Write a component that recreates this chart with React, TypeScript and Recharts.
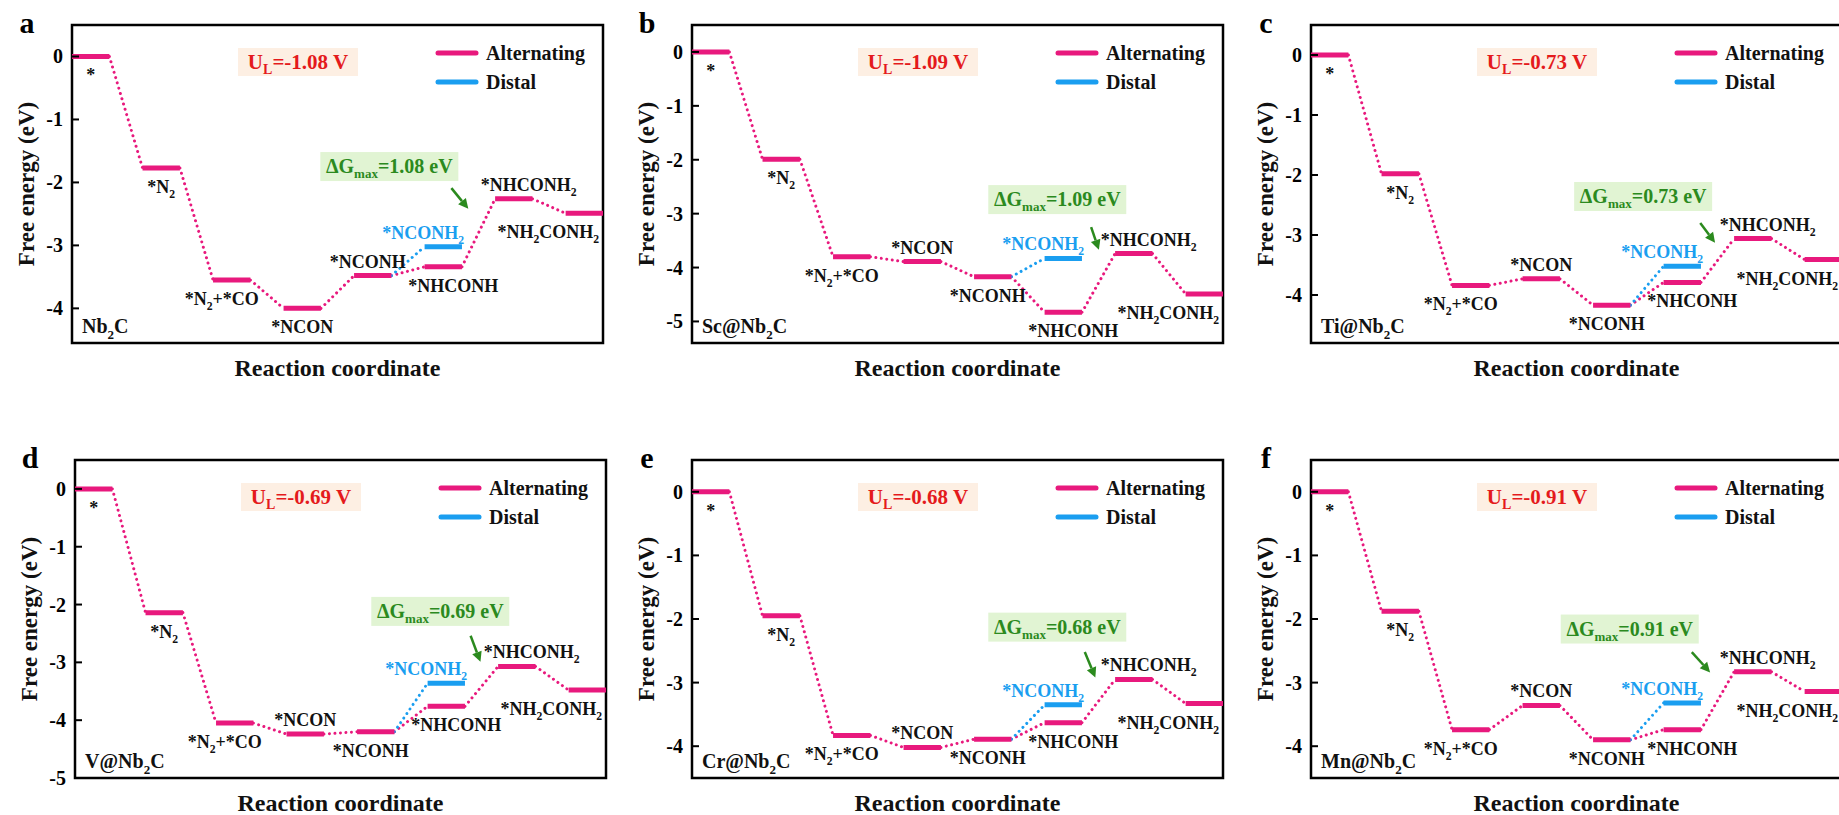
import React from 'react'
import { LineChart, Line, XAxis, YAxis, ReferenceDot, ReferenceLine, ReferenceArea } from 'recharts'

const FONT = "'Liberation Serif', 'Times New Roman', serif"
const PINK = '#e8197d'
const BLUE = '#1a9ef0'
const RED = '#e41a1c'
const GREEN = '#2b8a1e'
const LW = 0.53 // width of one level, in step units
const X_MAX = 7 + LW
const LABEL_SIZE = 18

// reaction steps (alternating path) and the distal branch at step 5
const stepNames = ['*', '*N2', '*N2+*CO', '*NCON', '*NCONH', '*NHCONH', '*NHCONH2', '*NH2CONH2']
const distalName = '*NCONH2'

// free energies (eV)
const nb2c = [0, -1.77, -3.55, -4.0, -3.48, -3.34, -2.26, -2.49]
const nb2cDistal = -3.02
const scNb2c = [0, -1.99, -3.8, -3.89, -4.17, -4.83, -3.74, -4.49]
const scDistal = -3.83
const tiNb2c = [0, -1.98, -3.84, -3.73, -4.17, -3.79, -3.06, -3.41]
const tiDistal = -3.52
const vNb2c = [0, -2.14, -4.05, -4.24, -4.2, -3.76, -3.07, -3.48]
const vDistal = -3.36
const crNb2c = [0, -1.95, -3.83, -4.02, -3.89, -3.63, -2.95, -3.33]
const crDistal = -3.35
const mnNb2c = [0, -1.88, -3.74, -3.36, -3.9, -3.74, -2.83, -3.14]
const mnDistal = -3.32

const ulValues = ['-1.08', '-1.09', '-0.73', '-0.69', '-0.68', '-0.91']
const dgValues = ['1.08', '1.09', '0.73', '0.69', '0.68', '0.91']

const ticks4 = [-4, -3, -2, -1, 0]
const ticks5 = [-5, -4, -3, -2, -1, 0]

// label placement: 'a' above the level, 'b' below
const sidesA = ['b', 'b', 'b', 'b', 'a', 'b', 'a', 'b']
const sidesRest = ['b', 'b', 'b', 'a', 'b', 'b', 'a', 'b']
const labelDx = [0, 0, -10, 0, -5, 10, 15, -36]
const distalDx = -20

const PLOT_W = 531
const PLOT_H = 318
const ML = 72
const MT = 25
const MR = 20
const MB = 50

const panels = [
  { letter: 'a', name: 'Nb2C', energy: nb2c, distal: nb2cDistal, left: 72, top: 25, domain: [-4.55, 0.5], ticks: ticks4, sides: sidesA, dg: [4.5, -1.74], arrow: [5.38, -2.09, 5.62, -2.42] },
  { letter: 'b', name: 'Sc@Nb2C', energy: scNb2c, distal: scDistal, left: 692, top: 25, domain: [-5.4, 0.5], ticks: ticks5, sides: sidesRest, dg: [5.18, -2.73], arrow: [5.66, -3.25, 5.77, -3.67] },
  { letter: 'c', name: 'Ti@Nb2C', energy: tiNb2c, distal: tiDistal, left: 1311, top: 25, domain: [-4.8, 0.5], ticks: ticks4, sides: sidesRest, dg: [4.71, -2.35], arrow: [5.52, -2.8, 5.73, -3.13] },
  { letter: 'd', name: 'V@Nb2C', energy: vNb2c, distal: vDistal, left: 75, top: 460, domain: [-5, 0.5], ticks: ticks5, sides: sidesRest, dg: [5.18, -2.11], arrow: [5.61, -2.54, 5.75, -2.99] },
  { letter: 'e', name: 'Cr@Nb2C', energy: crNb2c, distal: crDistal, left: 692, top: 460, domain: [-4.5, 0.5], ticks: ticks4, sides: sidesRest, dg: [5.18, -2.12], arrow: [5.57, -2.52, 5.72, -2.92] },
  { letter: 'f', name: 'Mn@Nb2C', energy: mnNb2c, distal: mnDistal, left: 1311, top: 460, domain: [-4.5, 0.5], ticks: ticks4, sides: sidesRest, dg: [4.52, -2.15], arrow: [5.4, -2.52, 5.66, -2.84] },
]

function chem(text: string, size: number) {
  const parts = text.split(/(\d+)/)
  let shifted = false
  const out: any[] = []
  parts.forEach((p, i) => {
    if (!p) return
    if (/^\d+$/.test(p)) {
      out.push(<tspan key={i} dy={size * 0.28} fontSize={size * 0.65}>{p}</tspan>)
      shifted = true
    } else {
      out.push(<tspan key={i} dy={shifted ? -size * 0.28 : 0}>{p}</tspan>)
      shifted = false
    }
  })
  return out
}

function levelPoints(energy: number[]) {
  const pts: any[] = []
  energy.forEach((e, i) => {
    pts.push({ x: i, y: e }, { x: i + LW, y: e }, { x: i + LW, y: null })
  })
  return pts
}

function linkPoints(energy: number[]) {
  const pts: any[] = []
  for (let i = 0; i < energy.length - 1; i++) {
    pts.push({ x: i + LW, y: energy[i] }, { x: i + 1, y: energy[i + 1] }, { x: i + 1, y: null })
  }
  return pts
}

const YTick = (props: any) => {
  const { y, payload } = props
  return (
    <g>
      <line x1={ML} x2={ML + 7} y1={y} y2={y} stroke='#000' strokeWidth={2} />
      <text x={ML - 9} y={y} dy='0.35em' textAnchor='end' fontFamily={FONT} fontWeight='bold' fontSize={20} fill='#000'>
        {payload.value}
      </text>
    </g>
  )
}

function Panel({ p, idx }: { p: any; idx: number }) {
  const width = ML + PLOT_W + MR
  const height = MT + PLOT_H + MB
  const right = ML + PLOT_W
  const bottom = MT + PLOT_H
  const e = p.energy
  const distalLevel = [{ x: 5, y: p.distal }, { x: 5 + LW, y: p.distal }]
  const distalLink = [{ x: 4 + LW, y: e[4] }, { x: 5, y: p.distal }]

  return (
    <div style={{ position: 'absolute', left: p.left - ML, top: p.top - MT, width, height }}>
      <LineChart width={width} height={height} margin={{ top: MT, right: MR, bottom: MB, left: 0 }}>
        <XAxis type='number' dataKey='x' domain={[0, X_MAX]} allowDataOverflow hide />
        <YAxis
          type='number'
          width={ML}
          domain={p.domain}
          ticks={p.ticks}
          interval={0}
          allowDataOverflow
          axisLine={false}
          tickLine={false}
          tick={(tp: any) => <YTick {...tp} />}
        />
        <ReferenceArea x1={0} x2={X_MAX} y1={p.domain[0]} y2={p.domain[1]} fill='none' stroke='#000' strokeWidth={2.5} ifOverflow='visible' />
        <Line data={linkPoints(e)} dataKey='y' stroke={PINK} strokeWidth={3} strokeDasharray='0.01 5.5' strokeLinecap='round' dot={false} activeDot={false} isAnimationActive={false} legendType='none' />
        <Line data={distalLink} dataKey='y' stroke={BLUE} strokeWidth={3} strokeDasharray='0.01 5.5' strokeLinecap='round' dot={false} activeDot={false} isAnimationActive={false} legendType='none' />
        <Line data={levelPoints(e)} dataKey='y' stroke={PINK} strokeWidth={5} dot={false} activeDot={false} isAnimationActive={false} legendType='none' />
        <Line data={distalLevel} dataKey='y' stroke={BLUE} strokeWidth={5} dot={false} activeDot={false} isAnimationActive={false} legendType='none' />
        {e.map((v: number, i: number) => (
          <ReferenceDot
            key={'l' + i}
            x={i + LW / 2}
            y={v}
            r={1}
            ifOverflow='visible'
            shape={(sp: any) => (
              <text
                x={sp.cx + labelDx[i]}
                y={sp.cy + (p.sides[i] === 'a' ? -8 : 25)}
                textAnchor='middle'
                fontFamily={FONT}
                fontWeight='bold'
                fontSize={LABEL_SIZE}
                fill='#111'
              >
                {chem(stepNames[i], LABEL_SIZE)}
              </text>
            )}
          />
        ))}
        <ReferenceDot
          x={5 + LW / 2}
          y={p.distal}
          r={1}
          ifOverflow='visible'
          shape={(sp: any) => (
            <text x={sp.cx + distalDx} y={sp.cy - 8} textAnchor='middle' fontFamily={FONT} fontWeight='bold' fontSize={LABEL_SIZE} fill={BLUE}>
              {chem(distalName, LABEL_SIZE)}
            </text>
          )}
        />
        <ReferenceDot
          x={p.dg[0]}
          y={p.dg[1]}
          r={1}
          ifOverflow='visible'
          shape={(sp: any) => (
            <g>
              <rect x={sp.cx - 69} y={sp.cy - 14} width={138} height={29} fill='#e1f4d3' />
              <text x={sp.cx} y={sp.cy + 7} textAnchor='middle' fontFamily={FONT} fontWeight='bold' fontSize={20} fill={GREEN}>
                <tspan>ΔG</tspan>
                <tspan dy={5} fontSize={13}>max</tspan>
                <tspan dy={-5}>{'=' + dgValues[idx] + ' eV'}</tspan>
              </text>
            </g>
          )}
        />
        <ReferenceLine
          segment={[{ x: p.arrow[0], y: p.arrow[1] }, { x: p.arrow[2], y: p.arrow[3] }]}
          ifOverflow='visible'
          shape={(lp: any) => {
            const { x1, y1, x2, y2 } = lp
            const ang = Math.atan2(y2 - y1, x2 - x1)
            const hl = 10
            const hw = 5
            const bx = x2 - hl * Math.cos(ang)
            const by = y2 - hl * Math.sin(ang)
            const px = -Math.sin(ang) * hw
            const py = Math.cos(ang) * hw
            return (
              <g>
                <line x1={x1} y1={y1} x2={bx} y2={by} stroke={GREEN} strokeWidth={2.5} />
                <polygon points={`${x2},${y2} ${bx + px},${by + py} ${bx - px},${by - py}`} fill={GREEN} />
              </g>
            )
          }}
        />
      </LineChart>
      <svg width={width} height={height} style={{ position: 'absolute', left: 0, top: 0, pointerEvents: 'none', overflow: 'visible' }}>
        <text x={ML - 45} y={MT + 8} textAnchor='middle' fontFamily={FONT} fontWeight='bold' fontSize={30} fill='#000'>
          {p.letter}
        </text>
        <text
          transform={`translate(${ML - 46}, ${MT + PLOT_H / 2}) rotate(-90)`}
          dy='0.35em'
          textAnchor='middle'
          fontFamily={FONT}
          fontWeight='bold'
          fontSize={23}
          fill='#111'
        >
          Free energy (eV)
        </text>
        <text x={ML + PLOT_W / 2} y={bottom + 33} textAnchor='middle' fontFamily={FONT} fontWeight='bold' fontSize={24} fill='#111'>
          Reaction coordinate
        </text>
        <text x={ML + 10} y={bottom - 10} fontFamily={FONT} fontWeight='bold' fontSize={20} fill='#111'>
          {chem(p.name, 20)}
        </text>
        <rect x={ML + 166} y={MT + 23} width={120} height={28} fill='#fdefe3' />
        <text x={ML + 226} y={MT + 44} textAnchor='middle' fontFamily={FONT} fontWeight='bold' fontSize={21} fill={RED}>
          <tspan>U</tspan>
          <tspan dy={5} fontSize={14}>L</tspan>
          <tspan dy={-5}>{'=' + ulValues[idx] + ' V'}</tspan>
        </text>
        <line x1={right - 165} x2={right - 127} y1={MT + 28} y2={MT + 28} stroke={PINK} strokeWidth={5} strokeLinecap='round' />
        <text x={right - 117} y={MT + 35} fontFamily={FONT} fontWeight='bold' fontSize={20} fill='#111'>
          Alternating
        </text>
        <line x1={right - 165} x2={right - 127} y1={MT + 57} y2={MT + 57} stroke={BLUE} strokeWidth={5} strokeLinecap='round' />
        <text x={right - 117} y={MT + 64} fontFamily={FONT} fontWeight='bold' fontSize={20} fill='#111'>
          Distal
        </text>
      </svg>
    </div>
  )
}

export default function App() {
  return (
    <div style={{ position: 'absolute', left: 0, top: 0, width: 1839, height: 815, overflow: 'hidden', background: '#fff' }}>
      {panels.map((p, i) => (
        <Panel key={p.letter} p={p} idx={i} />
      ))}
    </div>
  )
}
